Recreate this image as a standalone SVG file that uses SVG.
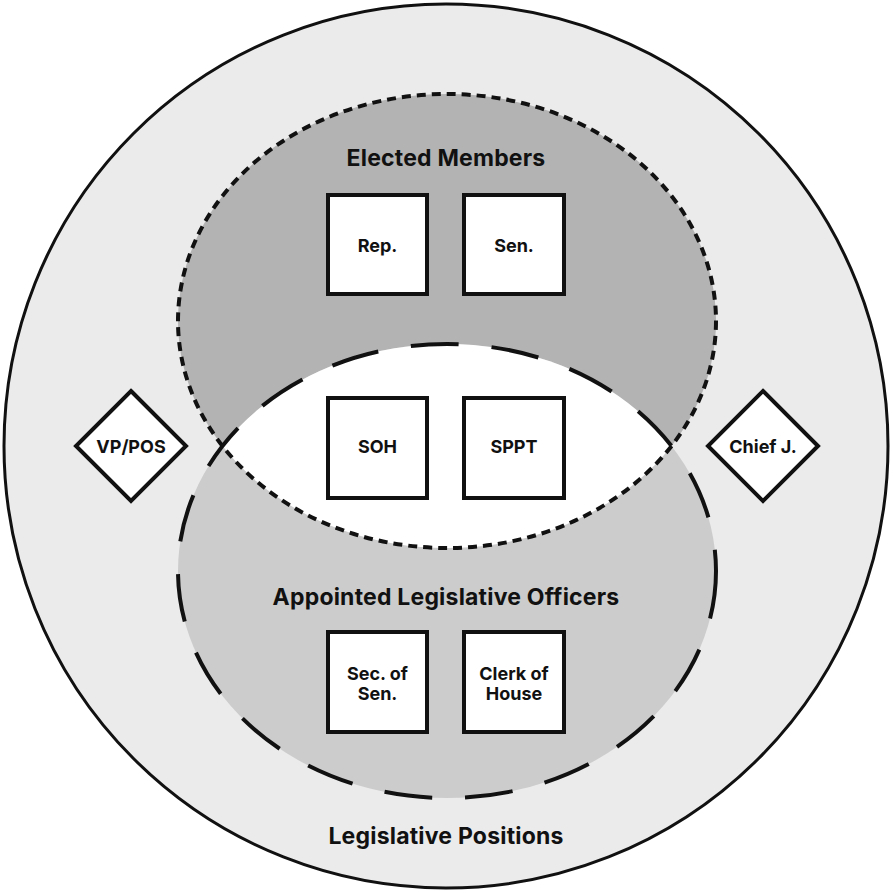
<svg xmlns="http://www.w3.org/2000/svg" width="893" height="893" viewBox="0 0 893 893">
<defs>
<style>
.t{font-family:Inter,"Noto Sans","Liberation Sans",sans-serif;font-weight:700;fill:#111;text-anchor:middle}
.title{font-size:23px;letter-spacing:0.2px}
.lbl{font-size:18px}
.box{fill:#fff;stroke:#111;stroke-width:4}
</style>
<clipPath id="clipE"><ellipse cx="447" cy="321" rx="269" ry="227"/></clipPath>
</defs>
<g id="outer">
<circle cx="446" cy="446" r="442" fill="#ebebeb" stroke="#111" stroke-width="3"/>
<text class="t title" x="446" y="844">Legislative Positions</text>
</g>
<g id="sets">
<ellipse cx="447" cy="321" rx="269" ry="227" fill="#b3b3b3"/>
<ellipse cx="447" cy="571" rx="269" ry="227" fill="#cccccc"/>
<ellipse cx="447" cy="571" rx="269" ry="227" fill="#ffffff" clip-path="url(#clipE)"/>
<ellipse id="elected" cx="447" cy="321" rx="269" ry="227" fill="none" stroke="#111" stroke-width="4" stroke-dasharray="9 6"/>
<ellipse id="appointed" cx="447" cy="571" rx="269" ry="227" fill="none" stroke="#111" stroke-width="4" stroke-dasharray="48 33"/>
<text class="t title" x="446" y="166">Elected Members</text>
<text class="t title" x="446" y="605">Appointed Legislative Officers</text>
</g>
<g id="rep"><rect class="box" x="328" y="195" width="99" height="99"/><text class="t lbl" x="377.5" y="251.5">Rep.</text></g>
<g id="sen"><rect class="box" x="464" y="195" width="100" height="99"/><text class="t lbl" x="514" y="251.5">Sen.</text></g>
<g id="soh"><rect class="box" x="328" y="398" width="99" height="100"/><text class="t lbl" x="377.5" y="453">SOH</text></g>
<g id="sppt"><rect class="box" x="464" y="398" width="100" height="100"/><text class="t lbl" x="514" y="453">SPPT</text></g>
<g id="secsen"><rect class="box" x="328" y="632" width="99" height="100"/><text class="t lbl" x="377.5" y="680">Sec. of</text><text class="t lbl" x="377.5" y="700">Sen.</text></g>
<g id="clerk"><rect class="box" x="464" y="632" width="100" height="100"/><text class="t lbl" x="514" y="680">Clerk of</text><text class="t lbl" x="514" y="700">House</text></g>
<g id="vppos"><polygon class="box" points="131,391 186,446 131,501 76,446"/><text class="t lbl" x="131" y="453">VP/POS</text></g>
<g id="chiefj"><polygon class="box" points="763,391 818,446 763,501 708,446"/><text class="t lbl" x="763" y="453">Chief J.</text></g>
<g id="connectors"></g>
</svg>
